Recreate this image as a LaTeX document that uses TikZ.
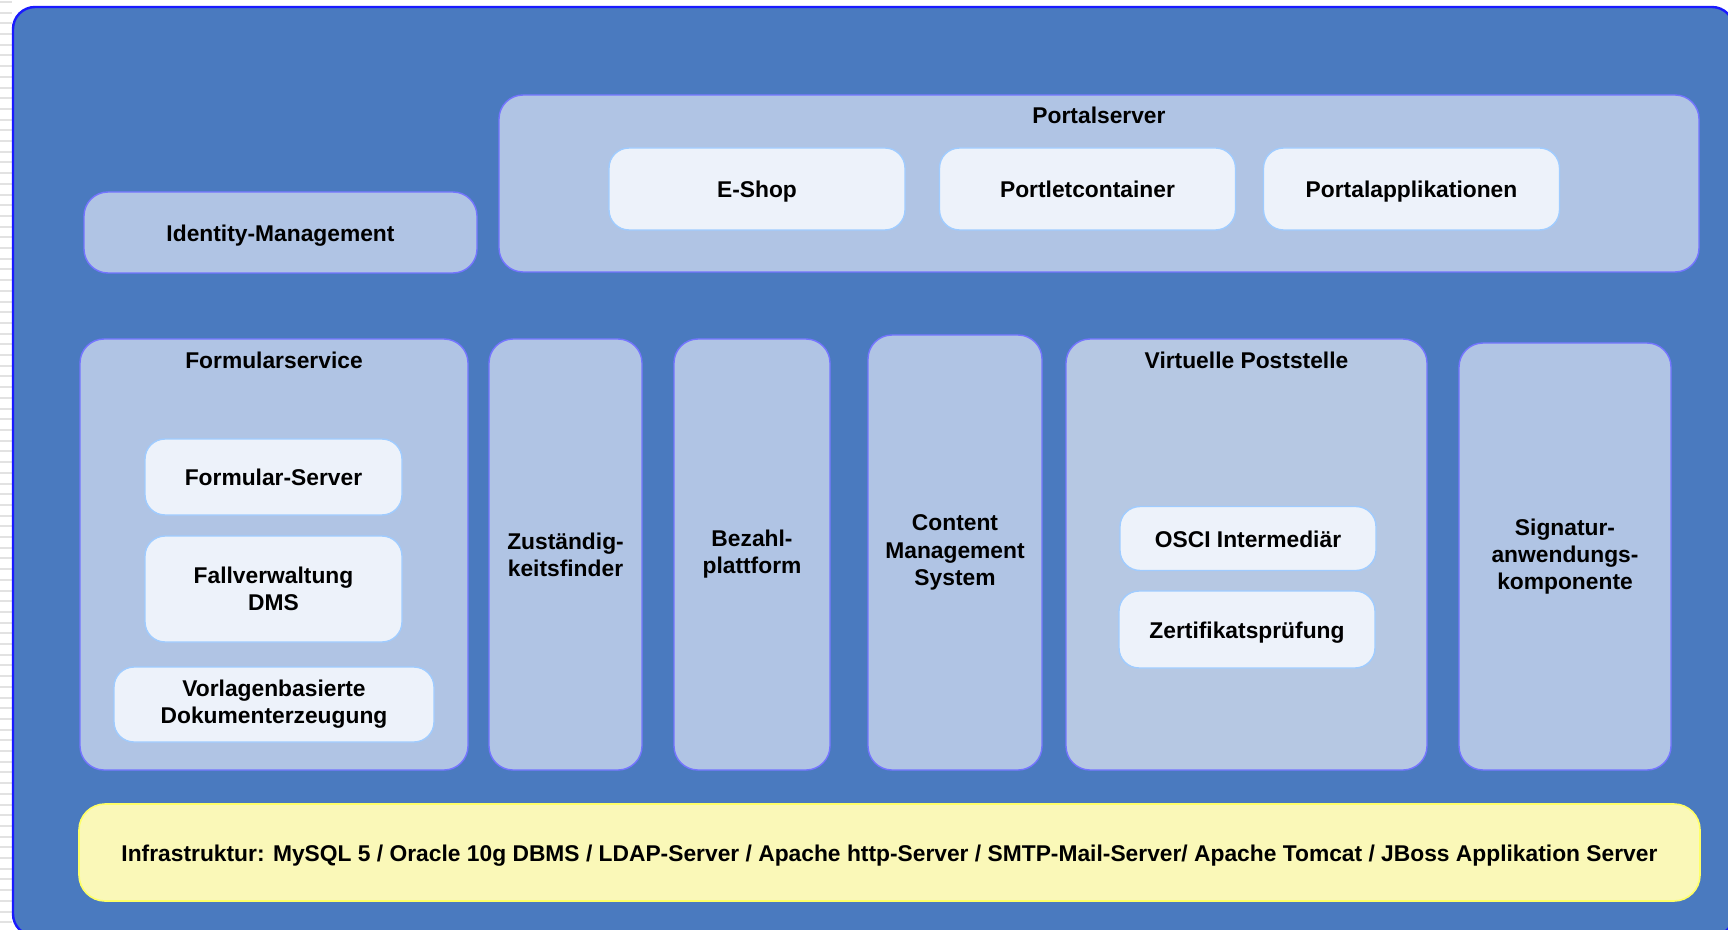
\documentclass[tikz,border=0pt]{standalone}
\usepackage{fontspec}
\setmainfont{Liberation Sans}
\definecolor{bgblue}{HTML}{4A7ABF}
\definecolor{frameline}{HTML}{1A1AFF}
\definecolor{boxfill}{HTML}{B0C4E4}
\definecolor{postfill}{HTML}{B6C8E3}
\definecolor{boxline}{HTML}{7474FF}
\definecolor{partfill}{HTML}{EDF2FA}
\definecolor{partline}{HTML}{A0CCFF}
\definecolor{infrafill}{HTML}{FAF8B8}
\definecolor{infraline}{HTML}{FFFF66}
\definecolor{stripe}{HTML}{E2E2E2}

\tikzset{
  every node/.style={font=\bfseries\fontsize{11.4}{13.6}\selectfont, align=center},
  oneline/.style={text height=11pt, text depth=2.4pt},
  layer/.style={draw=boxline, fill=boxfill, line width=0.7pt, rounded corners=12pt, inner sep=0pt},
  part/.style={draw=partline, fill=partfill, line width=0.7pt, rounded corners=10pt, inner sep=0pt},
  infra/.style={draw=infraline, fill=infrafill, line width=0.8pt, rounded corners=13pt, inner sep=0pt}
}

\begin{document}
\begin{tikzpicture}[x=0.5pt, y=-0.5pt]
  \useasboundingbox (0,0) rectangle (1728,930);
  % striped margin on the left
  \foreach \y in {2,12.7,...,930}
    \draw[stripe, line width=1pt] (0,\y) -- (12,\y);
  \begin{scope}
    \clip (0,0) rectangle (1728,930);
    \draw[frameline, fill=bgblue, line width=1.2pt, rounded corners=11pt] (13,7) rectangle (1734,936);
  \end{scope}

  % top row
  \node[layer, oneline, minimum width=196.5pt, minimum height=40.5pt] (idm) at (280.5,232.5) {Identity-Management};
  \node[layer, minimum width=600pt, minimum height=88.5pt] (portal) at (1099,183.5) {};
  \node[oneline] (portaltitle) at (1099,115) {Portalserver};
  \node[part, oneline, minimum width=148pt, minimum height=41pt] (eshop) at (757,189) {E-Shop};
  \node[part, oneline, minimum width=148pt, minimum height=41pt] (portlet) at (1087.5,189) {Portletcontainer};
  \node[part, oneline, minimum width=148pt, minimum height=41pt] (portalapp) at (1411.5,189) {Portalapplikationen};

  % Formularservice
  \node[layer, minimum width=194pt, minimum height=215.5pt] (formular) at (274,554.5) {};
  \node[oneline] (formulartitle) at (274,360) {Formularservice};
  \node[part, oneline, minimum width=128.5pt, minimum height=38pt] (fserver) at (273.5,477) {Formular-Server};
  \node[part, minimum width=128.5pt, minimum height=53pt] (fallverw) at (273.5,589) {Fallverwaltung\\DMS};
  \node[part, minimum width=160pt, minimum height=37.5pt] (vorlagen) at (274,704.5) {Vorlagenbasierte\\Dokumenterzeugung};

  % columns
  \node[layer, minimum width=76.5pt, minimum height=215.5pt] (zust) at (565.5,554.5) {Zuständig-\\keitsfinder};
  \node[layer, minimum width=78pt, minimum height=215.5pt] (bezahl) at (752,554.5) {Bezahl-\\plattform};
  \node[layer, minimum width=87pt, minimum height=217.5pt] (cms) at (955,552.5) {Content\\Management\\System};

  % Virtuelle Poststelle
  \node[layer, fill=postfill, minimum width=180.5pt, minimum height=215.5pt] (vps) at (1246.5,554.5) {};
  \node[oneline] (vpstitle) at (1246.5,360) {Virtuelle Poststelle};
  \node[part, oneline, minimum width=128pt, minimum height=32pt] (osci) at (1248,538.5) {OSCI Intermediär};
  \node[part, oneline, minimum width=128pt, minimum height=38.5pt] (zert) at (1247,629.5) {Zertifikatsprüfung};

  \node[layer, minimum width=106pt, minimum height=213.5pt] (signatur) at (1565,556.5) {Signatur-\\anwendungs-\\komponente};

  % infrastructure
  \node[infra, oneline, minimum width=810.5pt, minimum height=48.5pt] (infra) at (889.5,852.5) {Infrastruktur: MySQL 5 / Oracle 10g DBMS / LDAP-Server / Apache http-Server / SMTP-Mail-Server/ Apache Tomcat / JBoss Applikation Server};
\end{tikzpicture}
\end{document}
